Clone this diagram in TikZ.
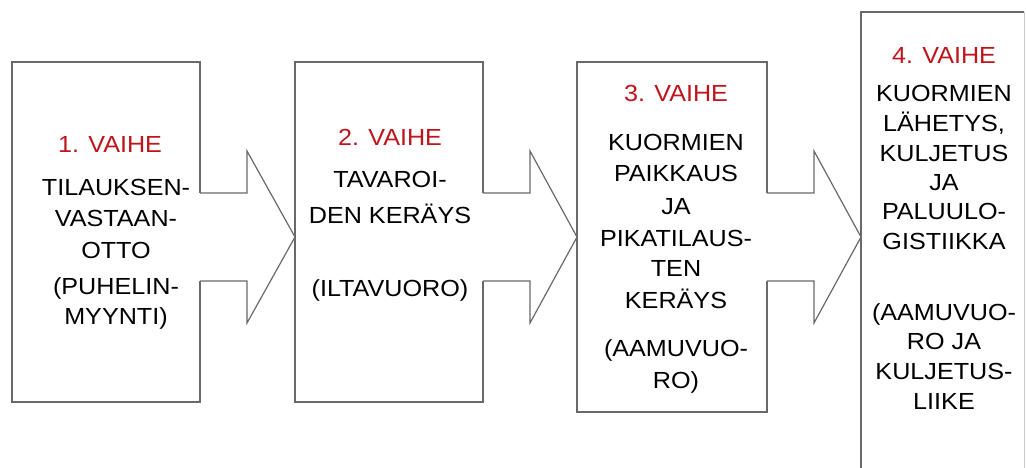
\documentclass[tikz,border=0pt]{standalone}
\usepackage{fontspec}
\setmainfont{Liberation Sans}
\newfontfamily\stagefont[FakeStretch=1.08]{Liberation Sans}
\usetikzlibrary{calc}
\definecolor{vred}{RGB}{190,20,28}
\definecolor{edgegray}{RGB}{105,105,105}
\tikzset{
  stagebox/.style={draw=edgegray, line width=1.2pt, inner sep=0pt, outer sep=0pt, fill=white},
  txt/.style={anchor=base, inner sep=0pt, font=\stagefont\fontsize{23.3}{28}\selectfont, text=black},
  ttl/.style={txt, text=vred},
  arrowline/.style={draw=edgegray, line width=1.2pt, line join=miter},
}
\newcommand\stagearrow[3]{%
  \coordinate (s#3) at (#1.east |- 0,237);
  \coordinate (t#3) at (#2.west |- 0,237);
  \fill[white] ([xshift=-1.5pt,yshift=44pt]s#3) -- ([xshift=47pt,yshift=44pt]s#3)
     -- ([xshift=47pt,yshift=86pt]s#3) -- (t#3) -- ([xshift=47pt,yshift=-86pt]s#3)
     -- ([xshift=47pt,yshift=-44pt]s#3) -- ([xshift=-1.5pt,yshift=-44pt]s#3) -- cycle;
  \draw[arrowline] ([yshift=44pt]s#3) -- ([xshift=47pt,yshift=44pt]s#3)
     -- ([xshift=47pt,yshift=86pt]s#3) -- (t#3) -- ([xshift=47pt,yshift=-86pt]s#3)
     -- ([xshift=47pt,yshift=-44pt]s#3) -- ([yshift=-44pt]s#3);
}
\begin{document}
\begin{tikzpicture}[x=1pt,y=-1pt]
\useasboundingbox (0,0) rectangle (1026,467);
\fill[white] (0,0) rectangle (1026,467);
% boxes
\node[stagebox, minimum width=188pt, minimum height=340pt] (b1) at (106,232) {};
\node[stagebox, minimum width=188pt, minimum height=340pt] (b2) at (389,232) {};
\node[stagebox, minimum width=190pt, minimum height=350pt] (b3) at (672,237) {};
\node[inner sep=0pt, outer sep=0pt, minimum width=163pt, minimum height=480pt] (b4) at (942.5,252) {};
\draw[draw=edgegray, line width=1.2pt] (b4.south west) -- (b4.north west) -- (b4.north east);
\draw[draw=edgegray!35, line width=1pt] (b4.north east) -- (b4.south east);
% arrows
\stagearrow{b1}{b2}{a}
\stagearrow{b2}{b3}{b}
\stagearrow{b3}{b4}{c}
% box 1 text
\node[ttl] (t1) at (110,152) {1. VAIHE};
\node[txt] (l1a) at (116,195) {TILAUKSEN-};
\node[txt] (l1b) at (116,226) {VASTAAN-};
\node[txt] (l1c) at (116,258) {OTTO};
\node[txt] (l1d) at (116,294) {(PUHELIN-};
\node[txt] (l1e) at (116,324) {MYYNTI)};
% box 2 text
\node[ttl] (t2) at (390,145) {2. VAIHE};
\node[txt] (l2a) at (390,187) {TAVAROI-};
\node[txt] (l2b) at (390,223) {DEN KERÄYS};
\node[txt] (l2c) at (390,296) {(ILTAVUORO)};
% box 3 text
\node[ttl] (t3) at (676,101) {3. VAIHE};
\node[txt] (l3a) at (676,150) {KUORMIEN};
\node[txt] (l3b) at (676,181) {PAIKKAUS};
\node[txt] (l3c) at (676,214) {JA};
\node[txt] (l3d) at (676,246) {PIKATILAUS-};
\node[txt] (l3e) at (676,276) {TEN};
\node[txt] (l3f) at (676,308) {KERÄYS};
\node[txt] (l3g) at (676,356) {(AAMUVUO-};
\node[txt] (l3h) at (676,388) {RO)};
% box 4 text
\node[ttl] (t4) at (944,63) {4. VAIHE};
\node[txt] (l4a) at (944,101) {KUORMIEN};
\node[txt] (l4b) at (944,131) {LÄHETYS,};
\node[txt] (l4c) at (944,161) {KULJETUS};
\node[txt] (l4d) at (944,190) {JA};
\node[txt] (l4e) at (944,219) {PALUULO-};
\node[txt] (l4f) at (944,249) {GISTIIKKA};
\node[txt] (l4g) at (944,320) {(AAMUVUO-};
\node[txt] (l4h) at (944,349) {RO JA};
\node[txt] (l4i) at (944,379) {KULJETUS-};
\node[txt] (l4j) at (944,409) {LIIKE};
\end{tikzpicture}
\end{document}
